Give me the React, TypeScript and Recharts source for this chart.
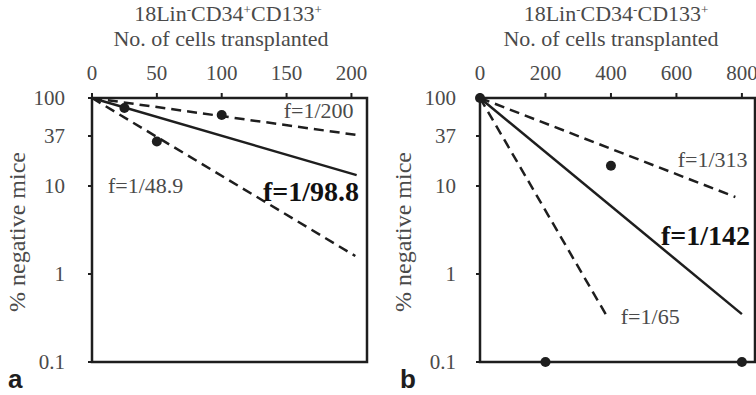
import React from 'react';
import { ComposedChart, Line, Scatter, XAxis, YAxis, ReferenceArea, ReferenceDot } from 'recharts';

// ---------- data ----------
const yTicks = [0.1, 1, 10, 37, 100];
const aXTicks = [0, 50, 100, 150, 200];
const bXTicks = [0, 200, 400, 600, 800];

const aFitMain = [{ x: 0, y: 100 }, { x: 204, y: 13.3 }];
const aFitUpper = [{ x: 0, y: 100 }, { x: 204, y: 38 }];
const aFitLower = [{ x: 0, y: 100 }, { x: 203, y: 1.6 }];
const aObserved = [{ x: 25, y: 77 }, { x: 50, y: 32 }, { x: 100, y: 64 }];
const aNotes = [
  { x: 147, y: 72, text: 'f=1/200', bold: false },
  { x: 11.5, y: 10.1, text: 'f=1/48.9', bold: false },
  { x: 131, y: 8.8, text: 'f=1/98.8', bold: true },
];

const bFitMain = [{ x: 0, y: 100 }, { x: 800, y: 0.35 }];
const bFitUpper = [{ x: 0, y: 100 }, { x: 780, y: 7.5 }];
const bFitLower = [{ x: 0, y: 100 }, { x: 390, y: 0.32 }];
const bObserved = [{ x: 0, y: 100 }, { x: 200, y: 0.1 }, { x: 400, y: 17 }, { x: 800, y: 0.1 }];
const bNotes = [
  { x: 601, y: 20, text: 'f=1/313', bold: false },
  { x: 550, y: 2.74, text: 'f=1/142', bold: true },
  { x: 427, y: 0.333, text: 'f=1/65', bold: false },
];

// ---------- styles ----------
const SERIF = "'Liberation Serif', 'Times New Roman', serif";
const INK = '#1e1e1e';
const GREY = '#4a4a4a';
const DASH = '10 6';

const dotShape = (p: any) => <circle cx={p.cx} cy={p.cy} r={5} fill={INK} />;

const XTick = (props: any) => (
  <text x={props.x} y={props.y} textAnchor="middle" fontFamily={SERIF} fontSize={21} fill={GREY}>
    {props.payload.value}
  </text>
);

const YTick = (props: any) => (
  <text x={props.x} y={props.y} dy="0.355em" textAnchor="end" fontFamily={SERIF} fontSize={21} fill={GREY}>
    {props.payload.value}
  </text>
);

const noteLabel = (text: string, bold: boolean) => (props: any) => {
  const vb = props.viewBox || {};
  return (
    <text
      x={(vb.x || 0) + (vb.width || 0)}
      y={(vb.y || 0) + (vb.height || 0) / 2}
      dy="0.355em"
      textAnchor="start"
      fontFamily={SERIF}
      fontSize={bold ? 28 : 22}
      fontWeight={bold ? 'bold' : 'normal'}
      fill={bold ? '#111' : GREY}
    >
      {text}
    </text>
  );
};

interface PanelProps {
  xMax: number;
  xTicks: number[];
  main: { x: number; y: number }[];
  upper: { x: number; y: number }[];
  lower: { x: number; y: number }[];
  observed: { x: number; y: number }[];
  notes: { x: number; y: number; text: string; bold: boolean }[];
  marginLeft: number;
  marginRight: number;
  tickMargin: number;
}

function Panel(p: PanelProps) {
  return (
    <ComposedChart
      width={378}
      height={395}
      margin={{ top: 68, left: p.marginLeft, right: p.marginRight, bottom: 33 }}
      style={{ fontFamily: SERIF }}
    >
      <XAxis
        xAxisId="x"
        orientation="top"
        type="number"
        dataKey="x"
        domain={[0, p.xMax]}
        ticks={p.xTicks}
        interval={0}
        height={30}
        tickSize={5}
        tickMargin={13}
        axisLine={false}
        tickLine={{ stroke: INK, strokeWidth: 2 }}
        tick={<XTick />}
      />
      <YAxis
        yAxisId="y"
        type="number"
        dataKey="y"
        scale="log"
        domain={[0.1, 100]}
        ticks={yTicks}
        interval={0}
        width={52}
        tickSize={4}
        tickMargin={p.tickMargin}
        axisLine={false}
        tickLine={{ stroke: INK, strokeWidth: 2 }}
        tick={<YTick />}
      />
      <ReferenceArea
        xAxisId="x"
        yAxisId="y"
        x1={0}
        x2={p.xMax}
        y1={0.1}
        y2={100}
        fill="none"
        fillOpacity={0}
        stroke={INK}
        strokeWidth={2.5}
      />
      <Line xAxisId="x" yAxisId="y" data={p.upper} dataKey="y" type="linear" stroke={INK} strokeWidth={2.5} strokeDasharray={DASH} dot={false} isAnimationActive={false} />
      <Line xAxisId="x" yAxisId="y" data={p.lower} dataKey="y" type="linear" stroke={INK} strokeWidth={2.5} strokeDasharray={DASH} dot={false} isAnimationActive={false} />
      <Line xAxisId="x" yAxisId="y" data={p.main} dataKey="y" type="linear" stroke={INK} strokeWidth={2.5} dot={false} isAnimationActive={false} />
      <Scatter xAxisId="x" yAxisId="y" data={p.observed} dataKey="y" shape={dotShape} isAnimationActive={false} />
      {p.notes.map((n) => (
        <ReferenceDot
          key={n.text}
          xAxisId="x"
          yAxisId="y"
          x={n.x}
          y={n.y}
          r={1}
          fill="none"
          stroke="none"
          label={noteLabel(n.text, n.bold)}
        />
      ))}
    </ComposedChart>
  );
}

const supStyle = { fontSize: 13, baselineShift: 'super' } as any;

export default function App() {
  return (
    <div style={{ position: 'absolute', left: 0, top: 0, width: 756, height: 395, background: '#fff', overflow: 'hidden', fontFamily: SERIF }}>
      <div style={{ position: 'absolute', left: 0, top: 0 }}>
        <Panel xMax={212} xTicks={aXTicks} main={aFitMain} upper={aFitUpper} lower={aFitLower} observed={aObserved} notes={aNotes} marginLeft={40} marginRight={11} tickMargin={23} />
      </div>
      <div style={{ position: 'absolute', left: 378, top: 0 }}>
        <Panel xMax={840} xTicks={bXTicks} main={bFitMain} upper={bFitUpper} lower={bFitLower} observed={bObserved} notes={bNotes} marginLeft={50} marginRight={1} tickMargin={20} />
      </div>
      <svg width={756} height={395} style={{ position: 'absolute', left: 0, top: 0, pointerEvents: 'none' }}>
        <g fontFamily={SERIF} fill={GREY} fontSize={22} textAnchor="middle">
          <text x={228} y={21}>
            18Lin<tspan style={supStyle}>-</tspan>CD34<tspan style={supStyle}>+</tspan>CD133<tspan style={supStyle}>+</tspan>
          </text>
          <text x={221} y={46}>No. of cells transplanted</text>
          <text x={616} y={21}>
            18Lin<tspan style={supStyle}>-</tspan>CD34<tspan style={supStyle}>-</tspan>CD133<tspan style={supStyle}>+</tspan>
          </text>
          <text x={611} y={46}>No. of cells transplanted</text>
          <text x={17} y={232} fontSize={24} transform="rotate(-90 17 232)" dy="0.35em">% negative mice</text>
          <text x={403} y={232} fontSize={24} transform="rotate(-90 403 232)" dy="0.35em">% negative mice</text>
        </g>
        <g fontFamily="'Liberation Sans', Arial, sans-serif" fontWeight="bold" fontSize={26} fill={INK}>
          <text x={8} y={388}>a</text>
          <text x={400} y={388}>b</text>
        </g>
      </svg>
    </div>
  );
}
